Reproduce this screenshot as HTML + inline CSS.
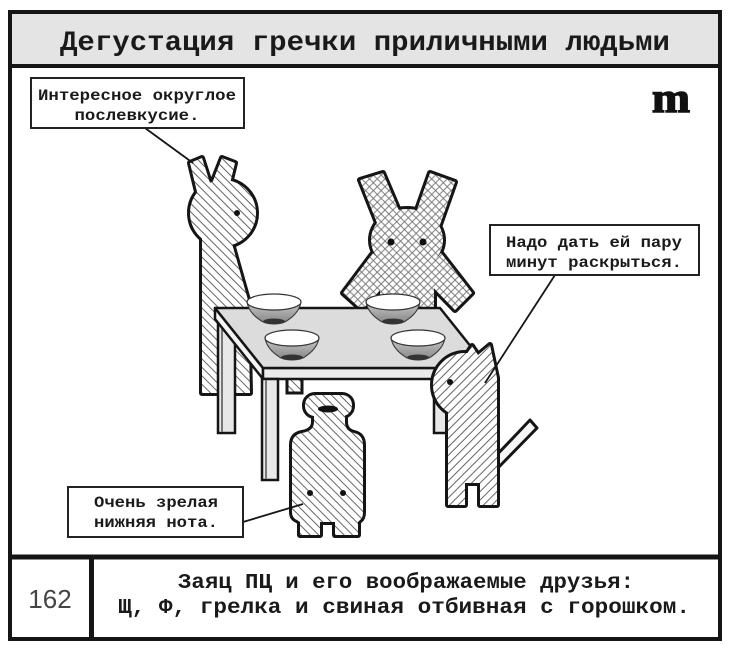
<!DOCTYPE html>
<html><head><meta charset="utf-8"><style>
html,body{margin:0;padding:0;background:#fff;width:730px;height:651px;overflow:hidden}
svg{display:block}
</style></head><body>
<svg width="730" height="651" viewBox="0 0 730 651" xmlns="http://www.w3.org/2000/svg">
<defs>
  <pattern id="hb" width="6" height="6" patternUnits="userSpaceOnUse" patternTransform="rotate(-45)">
    <rect width="6" height="6" fill="#fff"/>
    <line x1="3" y1="0" x2="3" y2="6" stroke="#666" stroke-width="1"/>
  </pattern>
  <pattern id="hf" width="6" height="6" patternUnits="userSpaceOnUse" patternTransform="rotate(45)">
    <rect width="6" height="6" fill="#fff"/>
    <line x1="3" y1="0" x2="3" y2="6" stroke="#666" stroke-width="1"/>
  </pattern>
  <pattern id="xh" width="5.5" height="5.5" patternUnits="userSpaceOnUse" patternTransform="rotate(45)">
    <rect width="5.5" height="5.5" fill="#fff"/>
    <line x1="2.75" y1="0" x2="2.75" y2="5.5" stroke="#707070" stroke-width="0.9"/>
    <line x1="0" y1="2.75" x2="5.5" y2="2.75" stroke="#707070" stroke-width="0.9"/>
  </pattern>
  <linearGradient id="bowlg" x1="0" y1="0" x2="0" y2="1">
    <stop offset="0" stop-color="#c8c8c8"/>
    <stop offset="1" stop-color="#8a8a8a"/>
  </linearGradient>

  <g id="giraffe">
    <polygon points="190,163 202,158 211,186 222,158 235,163 227,196 198,196"/>
    <circle cx="223" cy="213" r="33"/>
    <polygon points="202,225 231,240 248,300 250,393 202,393"/>
  </g>
  <g id="rabbit">
    <polygon points="360,180 383,173 403,220 381,233"/>
    <polygon points="430,173 455,182 437,233 413,221"/>
    <ellipse cx="407" cy="240" rx="36" ry="31"/>
    <polygon points="373,253 343,293 362,310 394,275"/>
    <polygon points="441,253 472,293 455,310 421,275"/>
    <rect x="380" y="258" width="54" height="54"/>
  </g>
  <g id="cat">
    <circle cx="465" cy="385" r="32"/>
    <polygon points="463,360 472,346 478,355 490,345 497,378 497,505 480,505 480,483 465,483 465,505 448,505 448,405"/>
  </g>
  <g id="bottle">
    <rect x="305" y="395" width="47" height="21" rx="10" ry="10"/>
    <rect x="314" y="410" width="31" height="16"/>
    <path d="M314,422 Q314,431 302,433 Q292,435 292,445 L292,512 Q292,518 297,520 L300,522 L300,535 L320,535 L320,522 L335,522 L335,535 L358,535 L358,522 L360,520 Q363,518 363,512 L363,445 Q363,435 354,433 Q345,431 345,422 Z"/>
  </g>
  <g id="bowl">
    <path d="M-27,0 C-25,12 -14,18 -11,20 L11,20 C14,18 25,12 27,0 Z" fill="url(#bowlg)" stroke="#333" stroke-width="1"/>
    <ellipse cx="0" cy="19.5" rx="11" ry="3" fill="#333"/>
    <ellipse cx="0" cy="0" rx="27" ry="8" fill="#fff" stroke="#333" stroke-width="1.2"/>
  </g>
</defs>

<!-- background & frame -->
<rect x="0" y="0" width="730" height="651" fill="#fff"/>
<rect x="10" y="12" width="710" height="54" fill="#e4e4e4"/>

<!-- giraffe -->
<use href="#giraffe" fill="#151515" stroke="#151515" stroke-width="6" stroke-linejoin="round"/>
<use href="#giraffe" fill="url(#hb)"/>
<circle cx="237" cy="213" r="3" fill="#111"/>
<rect x="287" y="378" width="15" height="15" fill="url(#hb)" stroke="#151515" stroke-width="3"/>

<!-- rabbit -->
<use href="#rabbit" fill="#151515" stroke="#151515" stroke-width="6" stroke-linejoin="round"/>
<use href="#rabbit" fill="url(#xh)"/>
<circle cx="391" cy="242" r="3.5" fill="#111"/>
<circle cx="423" cy="242" r="3.5" fill="#111"/>

<!-- back legs -->
<rect x="218" y="316" width="17" height="117" fill="#e8e8e8" stroke="#151515" stroke-width="2.5"/>
<line x1="222" y1="318" x2="222" y2="432" stroke="#777" stroke-width="2"/>
<rect x="434" y="376" width="14" height="57" fill="#e8e8e8" stroke="#151515" stroke-width="2.5"/>

<!-- table -->
<polygon points="215,308 263,368 263,379 215,319" fill="#f4f4f4" stroke="#151515" stroke-width="2.5" stroke-linejoin="round"/>
<rect x="263" y="368" width="225" height="11" fill="#ebebeb" stroke="#151515" stroke-width="2.5"/>
<polygon points="215,308 440,308 488,368 263,368" fill="#dcdcdc" stroke="#151515" stroke-width="2.5" stroke-linejoin="round"/>
<rect x="262" y="379" width="16" height="101" fill="#e8e8e8" stroke="#151515" stroke-width="2.5"/>
<line x1="266" y1="380" x2="266" y2="479" stroke="#777" stroke-width="2"/>

<!-- bowls -->
<use href="#bowl" x="274" y="302"/>
<use href="#bowl" x="393" y="302"/>
<use href="#bowl" x="292" y="338"/>
<use href="#bowl" x="418" y="338"/>

<!-- cat -->
<polygon points="492,460 530,420 537,428 492,474" fill="#f6f6f6" stroke="#151515" stroke-width="3" stroke-linejoin="round"/>
<use href="#cat" fill="#151515" stroke="#151515" stroke-width="6" stroke-linejoin="round"/>
<use href="#cat" fill="url(#hf)"/>
<circle cx="450" cy="382" r="3" fill="#111"/>

<!-- bottle -->
<use href="#bottle" fill="#151515" stroke="#151515" stroke-width="6" stroke-linejoin="round"/>
<use href="#bottle" fill="url(#hb)"/>
<ellipse cx="328" cy="409" rx="10" ry="3.5" fill="#111"/>
<circle cx="310" cy="493" r="3" fill="#111"/>
<circle cx="343" cy="493" r="3" fill="#111"/>

<!-- connectors -->
<line x1="145" y1="128" x2="193" y2="163" stroke="#151515" stroke-width="1.8"/>
<line x1="555" y1="275" x2="485" y2="383" stroke="#151515" stroke-width="1.8"/>
<line x1="243" y1="522" x2="303" y2="504" stroke="#151515" stroke-width="1.8"/>

<!-- labels -->
<g font-family="'Liberation Mono', 'Noto Sans CJK SC', monospace" font-weight="bold" font-size="16" fill="#1a1a1a" text-anchor="middle">
  <rect x="31" y="78" width="213" height="50" fill="#fff" stroke="#222" stroke-width="2"/>
  <text x="137" y="100" textLength="198" lengthAdjust="spacingAndGlyphs">Интересное округлое</text>
  <text x="137" y="120" textLength="125" lengthAdjust="spacingAndGlyphs">послевкусие.</text>

  <rect x="490" y="225" width="209" height="50" fill="#fff" stroke="#222" stroke-width="2"/>
  <text x="594" y="247" textLength="176" lengthAdjust="spacingAndGlyphs">Надо дать ей пару</text>
  <text x="594" y="267" textLength="176" lengthAdjust="spacingAndGlyphs">минут раскрыться.</text>

  <rect x="68" y="487" width="175" height="50" fill="#fff" stroke="#222" stroke-width="2"/>
  <text x="156" y="507" textLength="124" lengthAdjust="spacingAndGlyphs">Очень зрелая</text>
  <text x="156" y="527" textLength="124" lengthAdjust="spacingAndGlyphs">нижняя нота.</text>
</g>

<!-- logo -->
<text x="652" y="112" font-family="'Liberation Serif', serif" font-weight="bold" font-size="42" fill="#111" stroke="#111" stroke-width="1.5" textLength="38" lengthAdjust="spacingAndGlyphs">m</text>

<!-- title -->
<text x="60" y="50" font-family="'Liberation Mono', 'Noto Sans CJK SC', monospace" font-weight="bold" font-size="28" fill="#1a1a1a" textLength="610" lengthAdjust="spacingAndGlyphs">Дегустация гречки приличными людьми</text>

<!-- bottom caption -->
<text x="50" y="608" font-family="'Liberation Sans', sans-serif" font-size="26" fill="#444" text-anchor="middle">162</text>
<g font-family="'Liberation Mono', 'Noto Sans CJK SC', monospace" font-weight="bold" font-size="21" fill="#1a1a1a">
  <text x="178" y="588" textLength="456" lengthAdjust="spacingAndGlyphs">Заяц ПЦ и его воображаемые друзья:</text>
  <text x="118" y="613" textLength="572" lengthAdjust="spacingAndGlyphs">Щ, Ф, грелка и свиная отбивная с горошком.</text>
</g>

<!-- frame lines -->
<rect x="10" y="12" width="710" height="627" fill="none" stroke="#151515" stroke-width="4"/>
<line x1="10" y1="66" x2="720" y2="66" stroke="#151515" stroke-width="4"/>
<line x1="10" y1="557" x2="720" y2="557" stroke="#151515" stroke-width="5"/>
<line x1="91.5" y1="557" x2="91.5" y2="639" stroke="#151515" stroke-width="5"/>
</svg>
</body></html>
